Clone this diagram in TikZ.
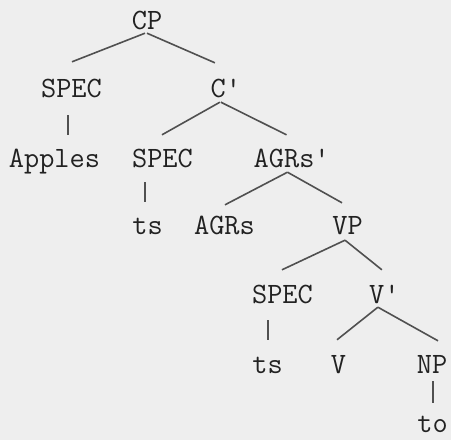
\documentclass[tikz,border=0pt]{standalone}
\definecolor{bgc}{HTML}{EEEEEE}
\definecolor{txc}{HTML}{222222}
\definecolor{lnc}{HTML}{505050}
\begin{document}
\begin{tikzpicture}[x=1pt,y=-1pt,
  lab/.style={anchor=base,inner sep=0pt,text height=18pt,text depth=0pt,text=txc,
    font=\fontsize{29.5}{31}\ttfamily},
  edge/.style={draw=lnc,line width=1.6pt}]
\fill[bgc] (0,0) rectangle (451,440);
\useasboundingbox (0,0) rectangle (451,440);
\node[lab] (cp) at (147,29) {CP};
\node[lab] (spec1) at (71.5,97) {SPEC};
\node[lab,anchor=base west] (cbar) at (210.5,97) {C'};
\node[lab] (apples) at (54.5,167) {Apples};
\node[lab] (spec2) at (162.5,167) {SPEC};
\node[lab,anchor=base west] (agrsbar) at (253.5,167) {AGRs'};
\node[lab] (ts1) at (147.5,234) {ts};
\node[lab] (agrs) at (224.5,234) {AGRs};
\node[lab] (vp) at (347.5,234) {VP};
\node[lab] (spec3) at (282.5,303) {SPEC};
\node[lab,anchor=base west] (vbar) at (369,303) {V'};
\node[lab] (ts2) at (267.5,373) {ts};
\node[lab] (v) at (338.5,373) {V};
\node[lab] (np) at (432,373) {NP};
\node[lab] (to) at (432.5,432) {to};
% connectors
\draw[edge] ([shift={(-2,4)}]cp.south) -- ([shift={(0.5,-17)}]spec1.north);
\draw[edge] ([shift={(0,4)}]cp.south) -- ([shift={(-11,-16)}]cbar.north);
\draw[edge] ([shift={(-3.5,18)}]spec1.south) -- ([shift={(13.5,-14)}]apples.north);
\draw[edge] ([shift={(-6,5)}]cbar.south) -- ([shift={(-0.5,-14)}]spec2.north);
\draw[edge] ([shift={(-5,5)}]cbar.south) -- ([shift={(-5.2,-14)}]agrsbar.north);
\draw[edge] ([shift={(-17.5,15)}]spec2.south) -- ([shift={(-2.5,-14)}]ts1.north);
\draw[edge] ([shift={(-4.2,5)}]agrsbar.south) -- ([shift={(0.5,-11)}]agrs.north);
\draw[edge] ([shift={(-4.2,5)}]agrsbar.south) -- ([shift={(-5.5,-13)}]vp.north);
\draw[edge] ([shift={(-2.5,6)}]vp.south) -- ([shift={(-0.5,-15)}]spec3.north);
\draw[edge] ([shift={(-2.5,6)}]vp.south) -- ([shift={(-2.5,-15)}]vbar.north);
\draw[edge] ([shift={(-14.5,17)}]spec3.south) -- ([shift={(0.5,-15)}]ts2.north);
\draw[edge] ([shift={(-6.5,4)}]vbar.south) -- ([shift={(-1.5,-15)}]v.north);
\draw[edge] ([shift={(-6.5,4)}]vbar.south) -- ([shift={(6,-14)}]np.north);
\draw[edge] ([shift={(1,8)}]np.south) -- ([shift={(0.5,-11)}]to.north);
\end{tikzpicture}
\end{document}
